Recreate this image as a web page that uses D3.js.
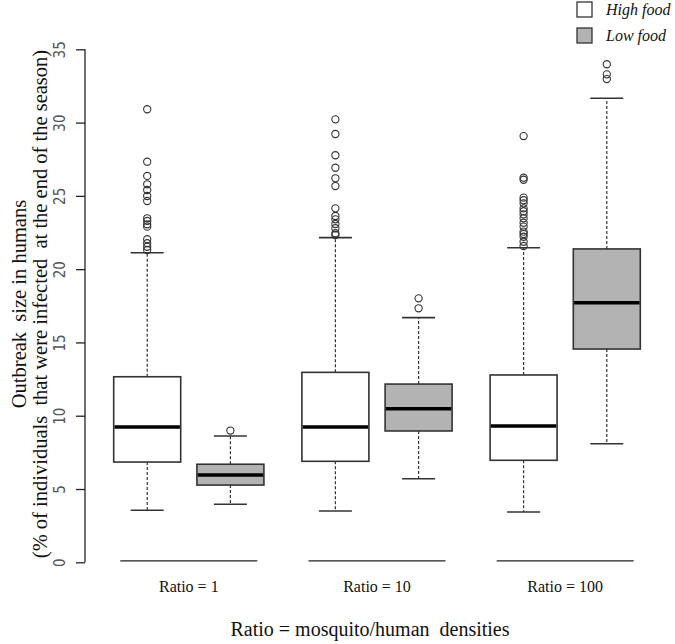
<!DOCTYPE html>
<html>
<head>
<meta charset="utf-8">
<script src="https://cdn.jsdelivr.net/npm/d3@7"></script>
<style>
  body { margin: 0; background: #fff; }
  svg { display: block; }
  text { white-space: pre; }
</style>
</head>
<body>
<svg id="chart" width="675" height="644"></svg>
<script>
// ---- data ----
const groups = ["Ratio = 1", "Ratio = 10", "Ratio = 100"];
const series = ["High food", "Low food"];
const yTicks = [0, 5, 10, 15, 20, 25, 30, 35];

// [lowerWhisker, Q1, median, Q3, upperWhisker] per group
const highStats = [
  [3.55, 6.84, 9.23, 12.66, 21.12],
  [3.50, 6.89, 9.23, 12.96, 22.15],
  [3.43, 6.96, 9.30, 12.78, 21.46]
];
const lowStats = [
  [3.96, 5.27, 5.96, 6.69, 8.62],
  [5.70, 8.96, 10.48, 12.16, 16.69],
  [8.09, 14.55, 17.71, 21.38, 31.66]
];
const highOutliers = [
  [30.91, 27.33, 26.36, 25.79, 25.40, 24.99, 24.65, 23.47, 23.29, 23.06, 22.90, 22.04, 21.77, 21.53, 21.31],
  [30.22, 29.22, 27.77, 26.92, 26.20, 25.67, 24.15, 23.63, 23.40, 23.08, 22.79, 22.45, 22.33],
  [29.08, 26.24, 26.10, 24.88, 24.70, 24.49, 24.15, 23.95, 23.74, 23.47, 23.17, 22.90, 22.56, 22.40, 22.21, 21.87, 21.58]
];
const lowOutliers = [
  [8.99],
  [18.01, 17.33],
  [33.98, 33.29, 32.97]
];

// ---- layout ----
const svg = d3.select("#chart");
const y = d3.scaleLinear().domain([0, 35]).range([562.3, 49.3]);
const xGroup = d3.scalePoint().domain(groups).range([188.8, 565.2]);
const xSeries = d3.scalePoint().domain(series).range([-41.6, 41.6]);
const boxW = 67, capW = 33;
const fills = { "High food": "#ffffff", "Low food": "#b3b3b3" };
const stroke = "#333";
const serif = "'Liberation Serif', 'Times New Roman', serif";

const statsBySeries = { "High food": highStats, "Low food": lowStats };
const outBySeries = { "High food": highOutliers, "Low food": lowOutliers };

// ---- y axis ----
const yAxis = d3.axisLeft(y).tickValues(yTicks).tickSize(9).tickFormat(d3.format("d"));
const gY = svg.append("g").attr("transform", "translate(85,0)").call(yAxis);
gY.select(".domain").attr("d", `M0,${y(0)}V${y(35)}`).attr("stroke", "#222").attr("stroke-width", 1.3);
gY.selectAll(".tick line").attr("stroke", "#222").attr("stroke-width", 1.3);
gY.selectAll(".tick text")
  .attr("x", null).attr("dy", null)
  .attr("transform", "translate(-20,0) rotate(-90)")
  .attr("text-anchor", "middle")
  .attr("font-family", "'Liberation Sans Narrow', 'Arial Narrow', 'DejaVu Sans Condensed', sans-serif")
  .attr("font-size", 15)
  .attr("fill", "#555");

// ---- group base lines and labels ----
groups.forEach(g => {
  const cx = xGroup(g);
  svg.append("line")
    .attr("x1", cx - 68.5).attr("x2", cx + 68.5)
    .attr("y1", y(0) - 1.5).attr("y2", y(0) - 1.5)
    .attr("stroke", "#222").attr("stroke-width", 1.3);
  svg.append("text")
    .attr("x", cx).attr("y", 592)
    .attr("text-anchor", "middle")
    .attr("font-family", serif)
    .attr("font-size", 16)
    .attr("fill", "#111")
    .text(g);
});

// ---- boxes ----
series.forEach(s => {
  groups.forEach((g, gi) => {
    const [lw, q1, med, q3, uw] = statsBySeries[s][gi];
    const cx = xGroup(g) + xSeries(s);
    const grp = svg.append("g");
    grp.append("line").attr("x1", cx).attr("x2", cx).attr("y1", y(q3)).attr("y2", y(uw))
      .attr("stroke", stroke).attr("stroke-dasharray", "3,2").attr("stroke-width", 1.2);
    grp.append("line").attr("x1", cx).attr("x2", cx).attr("y1", y(q1)).attr("y2", y(lw))
      .attr("stroke", stroke).attr("stroke-dasharray", "3,2").attr("stroke-width", 1.2);
    [lw, uw].forEach(v => {
      grp.append("line").attr("x1", cx - capW / 2).attr("x2", cx + capW / 2)
        .attr("y1", y(v)).attr("y2", y(v))
        .attr("stroke", stroke).attr("stroke-width", 1.6);
    });
    grp.append("rect")
      .attr("x", cx - boxW / 2).attr("width", boxW)
      .attr("y", y(q3)).attr("height", y(q1) - y(q3))
      .attr("fill", fills[s]).attr("stroke", stroke).attr("stroke-width", 1.6);
    grp.append("line").attr("x1", cx - boxW / 2 + 0.8).attr("x2", cx + boxW / 2 - 0.8)
      .attr("y1", y(med)).attr("y2", y(med))
      .attr("stroke", "#000").attr("stroke-width", 3.5);
    grp.selectAll("circle").data(outBySeries[s][gi]).join("circle")
      .attr("cx", cx).attr("cy", d => y(d)).attr("r", 3.6)
      .attr("fill", "none").attr("stroke", stroke).attr("stroke-width", 1.1);
  });
});

// ---- axis titles ----
svg.append("text")
  .attr("x", 370).attr("y", 636)
  .attr("text-anchor", "middle")
  .attr("font-family", serif).attr("font-size", 20).attr("fill", "#111")
  .text("Ratio = mosquito/human  densities");

const yTitle = svg.append("text")
  .attr("transform", "translate(0,304) rotate(-90)")
  .attr("text-anchor", "middle")
  .attr("font-family", serif).attr("font-size", 20.5).attr("fill", "#111");
yTitle.append("tspan").attr("x", 0).attr("y", 26).text("Outbreak  size in humans");
yTitle.append("tspan").attr("x", 0).attr("y", 47).text("(% of individuals  that were infected  at the end of the season)");

// ---- legend ----
series.forEach((s, i) => {
  const yy = 2 + i * 26;
  svg.append("rect").attr("x", 577).attr("y", yy).attr("width", 15).attr("height", 15)
    .attr("fill", fills[s]).attr("stroke", stroke).attr("stroke-width", 1.3);
  svg.append("text").attr("x", 606).attr("y", yy + 13)
    .attr("font-family", serif).attr("font-style", "italic").attr("font-size", 16).attr("fill", "#111")
    .text(s);
});
</script>
</body>
</html>
